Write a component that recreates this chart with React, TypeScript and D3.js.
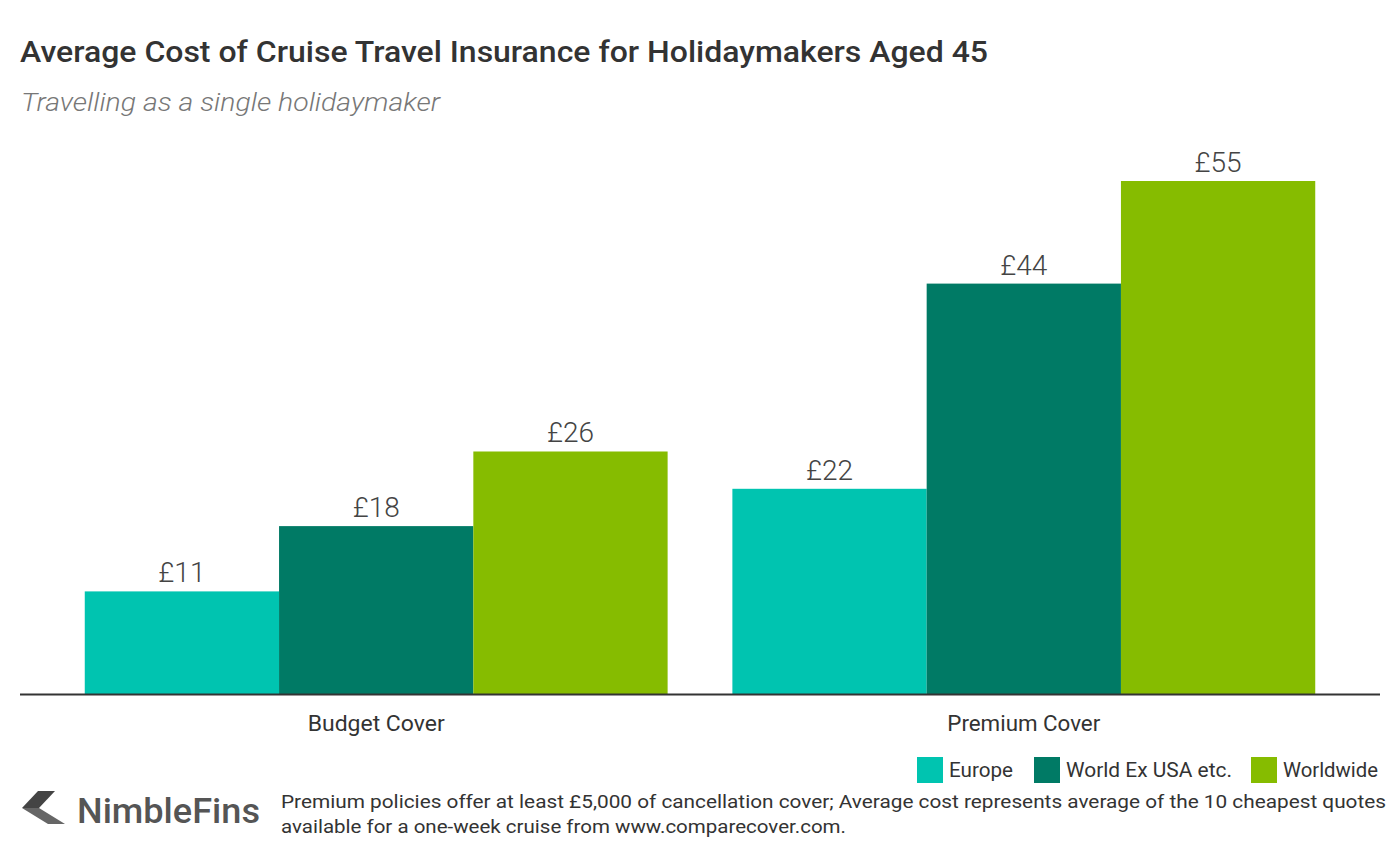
import React from "react";
import * as d3 from "d3";

const categories = ["Budget Cover", "Premium Cover"];
const seriesNames = ["Europe", "World Ex USA etc.", "Worldwide"];
const europe = [11, 22];
const worldExUSA = [18, 44];
const worldwide = [26, 55];
const colors = ["#00C4B0", "#007A65", "#86BC00"];

const W = 1400;
const H = 858;
const FONT = "Roboto, 'Noto Sans', sans-serif";

export default function App() {
  const series = [europe, worldExUSA, worldwide];
  const x0 = d3.scaleBand<string>().domain(categories).range([20, 1380]).paddingInner(0.1).paddingOuter(0.1);
  const x1 = d3.scaleBand<string>().domain(seriesNames).range([0, x0.bandwidth()]).padding(0);
  const y = d3.scaleLinear().domain([0, 55]).range([694, 181]);

  const legendItems = [
    { name: seriesNames[0], sx: 917, tx: 949, len: 64 },
    { name: seriesNames[1], sx: 1034, tx: 1066, len: 166 },
    { name: seriesNames[2], sx: 1251, tx: 1283, len: 95 },
  ];

  return (
    <svg width={W} height={H} style={{ position: "absolute", left: 0, top: 0, background: "#fff" }} fontFamily={FONT}>
      <rect width={W} height={H} fill="#fff" />
      <text x={20} y={62} fontSize={30} fontWeight={500} fill="#333" textLength={968} lengthAdjust="spacingAndGlyphs">
        Average Cost of Cruise Travel Insurance for Holidaymakers Aged 45
      </text>
      <text x={21} y={111} fontSize={26} fontStyle="italic" fontWeight={300} fill="#777" textLength={419} lengthAdjust="spacingAndGlyphs">
        Travelling as a single holidaymaker
      </text>
      {categories.map((c, ci) => (
        <g key={c} transform={`translate(${x0(c)},0)`}>
          {seriesNames.map((s, si) => {
            const v = series[si][ci];
            const bx = x1(s)!;
            return (
              <g key={s}>
                <rect x={bx} y={y(v)} width={x1.bandwidth()} height={y(0) - y(v)} fill={colors[si]} />
                <text x={bx + x1.bandwidth() / 2} y={y(v) - 9} fontSize={28} fontWeight={300} fill="#444" textAnchor="middle">
                  £{v}
                </text>
              </g>
            );
          })}
          <text x={x0.bandwidth() / 2} y={731} fontSize={22} fill="#333" textAnchor="middle" textLength={ci === 0 ? 137 : 153} lengthAdjust="spacingAndGlyphs">
            {c}
          </text>
        </g>
      ))}
      <line x1={20} x2={1380} y1={694.5} y2={694.5} stroke="#333" strokeWidth={2} />
      {legendItems.map((l, i) => (
        <g key={l.name}>
          <rect x={l.sx} y={757} width={26} height={26} fill={colors[i]} />
          <text x={l.tx} y={777} fontSize={20} fill="#333" textLength={l.len} lengthAdjust="spacingAndGlyphs">
            {l.name}
          </text>
        </g>
      ))}
      <g>
        <polygon points="38,791 55,791 39,808 22,808" fill="#444" />
        <polygon points="22,808 39,808 65,824 48,824" fill="#666" />
        <text x={77} y={823} fontSize={35} fontWeight={500} fill="#555" textLength={183} lengthAdjust="spacingAndGlyphs">
          NimbleFins
        </text>
      </g>
      <text x={281} y={808} fontSize={19} fill="#333" textLength={1105} lengthAdjust="spacingAndGlyphs">
        Premium policies offer at least £5,000 of cancellation cover; Average cost represents average of the 10 cheapest quotes
      </text>
      <text x={281} y={833} fontSize={19} fill="#333" textLength={565} lengthAdjust="spacingAndGlyphs">
        available for a one-week cruise from www.comparecover.com.
      </text>
    </svg>
  );
}
